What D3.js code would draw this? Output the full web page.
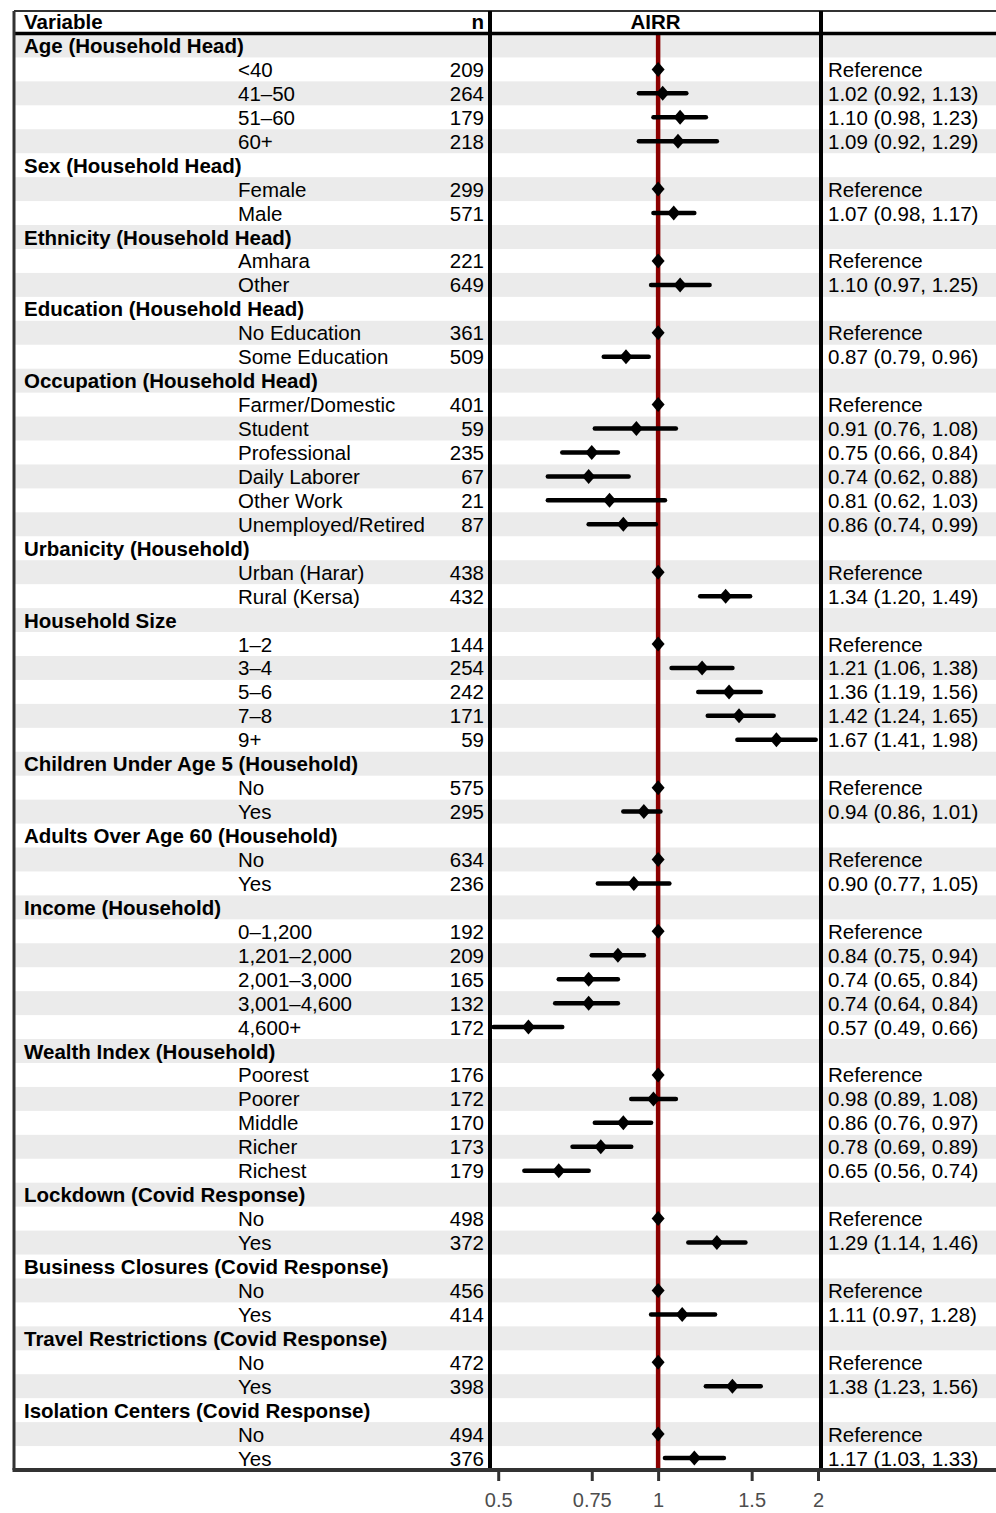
<!DOCTYPE html>
<html>
<head>
<meta charset="utf-8">
<script src="https://cdn.jsdelivr.net/npm/d3@7"></script>
<style>
  html, body { margin: 0; padding: 0; background: #fff; }
  svg { display: block; }
  text { font-family: "Liberation Sans", Arial, Helvetica, sans-serif; }
</style>
</head>
<body>
<svg id="chart" width="996" height="1513"></svg>
<script>
// ---------------- DATA ----------------
const groupNames = [
  "Age (Household Head)", "Sex (Household Head)", "Ethnicity (Household Head)",
  "Education (Household Head)", "Occupation (Household Head)", "Urbanicity (Household)",
  "Household Size", "Children Under Age 5 (Household)", "Adults Over Age 60 (Household)",
  "Income (Household)", "Wealth Index (Household)", "Lockdown (Covid Response)",
  "Business Closures (Covid Response)", "Travel Restrictions (Covid Response)",
  "Isolation Centers (Covid Response)"
];
const groupSizes = [4, 2, 2, 2, 6, 2, 5, 2, 2, 5, 5, 2, 2, 2, 2];
const levelLabels = [
  "<40", "41–50", "51–60", "60+",
  "Female", "Male",
  "Amhara", "Other",
  "No Education", "Some Education",
  "Farmer/Domestic", "Student", "Professional", "Daily Laborer", "Other Work", "Unemployed/Retired",
  "Urban (Harar)", "Rural (Kersa)",
  "1–2", "3–4", "5–6", "7–8", "9+",
  "No", "Yes",
  "No", "Yes",
  "0–1,200", "1,201–2,000", "2,001–3,000", "3,001–4,600", "4,600+",
  "Poorest", "Poorer", "Middle", "Richer", "Richest",
  "No", "Yes",
  "No", "Yes",
  "No", "Yes",
  "No", "Yes"
];
const nValues = [
  209, 264, 179, 218,
  299, 571,
  221, 649,
  361, 509,
  401, 59, 235, 67, 21, 87,
  438, 432,
  144, 254, 242, 171, 59,
  575, 295,
  634, 236,
  192, 209, 165, 132, 172,
  176, 172, 170, 173, 179,
  498, 372,
  456, 414,
  472, 398,
  494, 376
];
// null = reference level (plotted at 1)
const estimates = [
  null, 1.02, 1.10, 1.09,
  null, 1.07,
  null, 1.10,
  null, 0.87,
  null, 0.91, 0.75, 0.74, 0.81, 0.86,
  null, 1.34,
  null, 1.21, 1.36, 1.42, 1.67,
  null, 0.94,
  null, 0.90,
  null, 0.84, 0.74, 0.74, 0.57,
  null, 0.98, 0.86, 0.78, 0.65,
  null, 1.29,
  null, 1.11,
  null, 1.38,
  null, 1.17
];
const ciLower = [
  null, 0.92, 0.98, 0.92,
  null, 0.98,
  null, 0.97,
  null, 0.79,
  null, 0.76, 0.66, 0.62, 0.62, 0.74,
  null, 1.20,
  null, 1.06, 1.19, 1.24, 1.41,
  null, 0.86,
  null, 0.77,
  null, 0.75, 0.65, 0.64, 0.49,
  null, 0.89, 0.76, 0.69, 0.56,
  null, 1.14,
  null, 0.97,
  null, 1.23,
  null, 1.03
];
const ciUpper = [
  null, 1.13, 1.23, 1.29,
  null, 1.17,
  null, 1.25,
  null, 0.96,
  null, 1.08, 0.84, 0.88, 1.03, 0.99,
  null, 1.49,
  null, 1.38, 1.56, 1.65, 1.98,
  null, 1.01,
  null, 1.05,
  null, 0.94, 0.84, 0.84, 0.66,
  null, 1.08, 0.97, 0.89, 0.74,
  null, 1.46,
  null, 1.28,
  null, 1.56,
  null, 1.33
];
const xTicks = [0.5, 0.75, 1, 1.5, 2];
const xTickLabels = ["0.5", "0.75", "1", "1.5", "2"];

// ---------------- BUILD ROWS ----------------
const rows = [];
let li = 0;
groupNames.forEach((g, gi) => {
  rows.push({ type: "group", label: g });
  for (let k = 0; k < groupSizes[gi]; k++, li++) {
    rows.push({
      type: "level", label: levelLabels[li], n: nValues[li],
      est: estimates[li], lo: ciLower[li], hi: ciUpper[li]
    });
  }
});

// ---------------- LAYOUT ----------------
const svg = d3.select("#chart");
const L = 14, R = 996, TOP = 11, HDR = 33.5, BOT = 1470;
const P0 = 490, P1 = 821;

const y = d3.scaleBand().domain(d3.range(rows.length)).range([HDR, BOT]).padding(0);
const x = d3.scaleLog().domain([0.4825, 2.026]).range([P0, P1]);

// stripes
svg.append("g").selectAll("rect")
  .data(rows.map((r, i) => i).filter(i => i % 2 === 0))
  .join("rect")
  .attr("x", L).attr("width", R - L)
  .attr("y", i => y(i)).attr("height", y.bandwidth())
  .attr("fill", "#ebebeb");

// text columns
const fs = 20.5;
const tg = svg.append("g").attr("font-size", fs).attr("fill", "#000");
rows.forEach((r, i) => {
  const cy = y(i) + y.bandwidth() / 2 + 7.5;
  if (r.type === "group") {
    tg.append("text").attr("x", 24).attr("y", cy).attr("font-weight", "bold").text(r.label);
  } else {
    tg.append("text").attr("x", 238).attr("y", cy).text(r.label);
    tg.append("text").attr("x", 484).attr("y", cy).attr("text-anchor", "end").text(r.n);
    const t = r.est == null ? "Reference"
      : `${r.est.toFixed(2)} (${r.lo.toFixed(2)}, ${r.hi.toFixed(2)})`;
    tg.append("text").attr("x", 828).attr("y", cy).text(t);
  }
});

// header
const hg = svg.append("g").attr("font-size", fs).attr("font-weight", "bold");
hg.append("text").attr("x", 24).attr("y", 29).text("Variable");
hg.append("text").attr("x", 484).attr("y", 29).attr("text-anchor", "end").text("n");
hg.append("text").attr("x", (P0 + P1) / 2).attr("y", 29).attr("text-anchor", "middle").text("AIRR");

// red reference line
svg.append("line")
  .attr("x1", x(1)).attr("x2", x(1)).attr("y1", HDR).attr("y2", BOT)
  .attr("stroke", "#8b0000").attr("stroke-width", 4.5);

// CI lines
const levels = rows.map((r, i) => ({ ...r, i })).filter(r => r.type === "level");
svg.append("g").selectAll("line")
  .data(levels.filter(r => r.est != null))
  .join("line")
  .attr("x1", r => x(r.lo)).attr("x2", r => x(r.hi))
  .attr("y1", r => y(r.i) + y.bandwidth() / 2).attr("y2", r => y(r.i) + y.bandwidth() / 2)
  .attr("stroke", "#000").attr("stroke-width", 4.5).attr("stroke-linecap", "round");

// diamonds
const hw = 6.5, hh = 7.5;
svg.append("g").selectAll("path")
  .data(levels)
  .join("path")
  .attr("transform", r => `translate(${x(r.est == null ? 1 : r.est)},${y(r.i) + y.bandwidth() / 2})`)
  .attr("d", `M0,${-hh}L${hw},0L0,${hh}L${-hw},0Z`)
  .attr("fill", "#000");

// frame lines
svg.append("line").attr("x1", L).attr("x2", R).attr("y1", TOP).attr("y2", TOP)
  .attr("stroke", "#333").attr("stroke-width", 2);
svg.append("line").attr("x1", L).attr("x2", R).attr("y1", HDR).attr("y2", HDR)
  .attr("stroke", "#000").attr("stroke-width", 3.5);
svg.append("line").attr("x1", L).attr("x2", L).attr("y1", TOP).attr("y2", BOT)
  .attr("stroke", "#333").attr("stroke-width", 3);
[P0, P1].forEach(px => {
  svg.append("line").attr("x1", px).attr("x2", px).attr("y1", TOP).attr("y2", BOT)
    .attr("stroke", "#000").attr("stroke-width", 4);
});

// x axis
const axis = d3.axisBottom(x).tickValues(xTicks)
  .tickFormat((d, i) => xTickLabels[i]).tickSize(11).tickSizeOuter(0).tickPadding(12);
const ag = svg.append("g").attr("transform", `translate(0,${BOT})`).call(axis);
ag.select(".domain").remove();
ag.selectAll(".tick line").attr("stroke", "#333").attr("stroke-width", 3);
ag.selectAll(".tick text").attr("fill", "#4d4d4d").attr("font-size", 20)
  .attr("font-family", "Liberation Sans, Arial, sans-serif");
svg.append("line").attr("x1", L - 1.5).attr("x2", R).attr("y1", BOT).attr("y2", BOT)
  .attr("stroke", "#333").attr("stroke-width", 4);
</script>
</body>
</html>
